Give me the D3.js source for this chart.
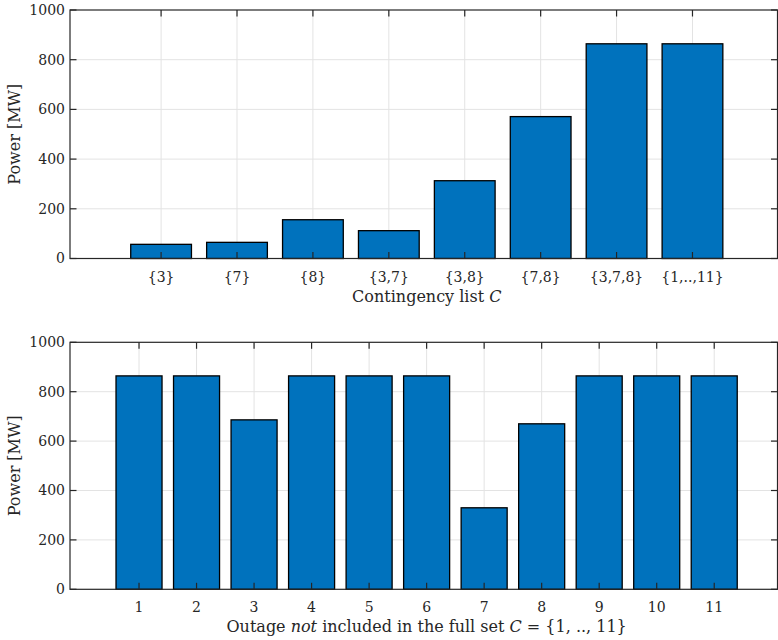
<!DOCTYPE html>
<html>
<head>
<meta charset="utf-8">
<script src="https://cdn.jsdelivr.net/npm/d3@7"></script>
<style>
  body { margin: 0; background: #fff; }
  svg text { font-family: "DejaVu Serif", serif; }
</style>
</head>
<body>
<div id="chart"></div>
<script>
const topLabels = ['{3}', '{7}', '{8}', '{3,7}', '{3,8}', '{7,8}', '{3,7,8}', '{1,..,11}']
const topValues = [57, 65, 156, 112, 313, 571, 864, 864]

const bottomLabels = ['1', '2', '3', '4', '5', '6', '7', '8', '9', '10', '11']
const bottomValues = [864, 864, 686, 864, 864, 864, 330, 670, 864, 864, 864]

const yTicks = [0, 200, 400, 600, 800, 1000]

const width = 778, height = 640

const svg = d3.select('#chart').append('svg')
  .attr('width', width)
  .attr('height', height)

const blue = '#0072BD'
const axisCol = '#262626'

function panel(opts) {
  const { labels, values, top, bottom, xMax, title } = opts
  const left = 70, right = 777.5

  const x = d3.scaleLinear().domain([-0.2, xMax]).range([left, right])
  const y = d3.scaleLinear().domain([0, 1000]).range([bottom, top])
  const g = svg.append('g')

  // grid
  g.selectAll('.gy').data(yTicks.slice(1, -1)).join('line')
    .attr('x1', left).attr('x2', right)
    .attr('y1', d => y(d)).attr('y2', d => y(d))
    .attr('stroke', '#e3e3e3').attr('stroke-width', 1)
  g.selectAll('.gx').data(labels).join('line')
    .attr('x1', (d, i) => x(i + 1)).attr('x2', (d, i) => x(i + 1))
    .attr('y1', top).attr('y2', bottom)
    .attr('stroke', '#e3e3e3').attr('stroke-width', 1)

  // bars
  g.selectAll('rect.bar').data(values).join('rect')
    .attr('class', 'bar')
    .attr('x', (d, i) => x(i + 1 - 0.4))
    .attr('width', x(0.8) - x(0))
    .attr('y', d => y(d))
    .attr('height', d => y(0) - y(d))
    .attr('fill', blue)
    .attr('stroke', '#000')
    .attr('stroke-width', 1.3)

  // box
  g.append('rect')
    .attr('x', left).attr('y', top)
    .attr('width', right - left).attr('height', bottom - top)
    .attr('fill', 'none').attr('stroke', axisCol).attr('stroke-width', 1.2)

  // inward ticks
  const tl = 6.5
  labels.forEach((d, i) => {
    const xp = x(i + 1)
    g.append('line').attr('x1', xp).attr('x2', xp).attr('y1', bottom).attr('y2', bottom - tl)
      .attr('stroke', axisCol).attr('stroke-width', 1.2)
    g.append('line').attr('x1', xp).attr('x2', xp).attr('y1', top).attr('y2', top + tl)
      .attr('stroke', axisCol).attr('stroke-width', 1.2)
  })
  yTicks.forEach(d => {
    g.append('line').attr('x1', left).attr('x2', left + tl).attr('y1', y(d)).attr('y2', y(d))
      .attr('stroke', axisCol).attr('stroke-width', 1.2)
    g.append('line').attr('x1', right).attr('x2', right - tl).attr('y1', y(d)).attr('y2', y(d))
      .attr('stroke', axisCol).attr('stroke-width', 1.2)
  })

  // tick labels
  g.selectAll('.yl').data(yTicks).join('text')
    .attr('x', left - 5).attr('y', d => y(d))
    .attr('dy', '0.35em')
    .attr('text-anchor', 'end')
    .attr('font-size', 14)
    .attr('fill', axisCol)
    .text(d => d)
  g.selectAll('.xl').data(labels).join('text')
    .attr('x', (d, i) => x(i + 1)).attr('y', bottom + 23)
    .attr('text-anchor', 'middle')
    .attr('font-size', 14)
    .attr('fill', axisCol)
    .text(d => d)

  // y title
  g.append('text')
    .attr('transform', `translate(20,${(top + bottom) / 2}) rotate(-90)`)
    .attr('text-anchor', 'middle')
    .attr('font-size', 16)
    .attr('fill', axisCol)
    .text('Power [MW]')

  // x title
  const t = g.append('text')
    .attr('x', (x(1) + x(labels.length)) / 2).attr('y', bottom + 43)
    .attr('text-anchor', 'middle')
    .attr('font-size', 16)
    .attr('fill', axisCol)
  title(t)
}

panel({
  labels: topLabels, values: topValues, top: 10, bottom: 258.5, xMax: 9.12,
  title: t => {
    t.append('tspan').text('Contingency list ')
    t.append('tspan').attr('font-style', 'italic').text('C')
  }
})

panel({
  labels: bottomLabels, values: bottomValues, top: 342.3, bottom: 589.3, xMax: 12.1,
  title: t => {
    t.append('tspan').text('Outage ')
    t.append('tspan').attr('font-style', 'italic').text('not')
    t.append('tspan').text(' included in the full set ')
    t.append('tspan').attr('font-style', 'italic').text('C')
    t.append('tspan').text(' = {1, .., 11}')
  }
})
</script>
</body>
</html>
